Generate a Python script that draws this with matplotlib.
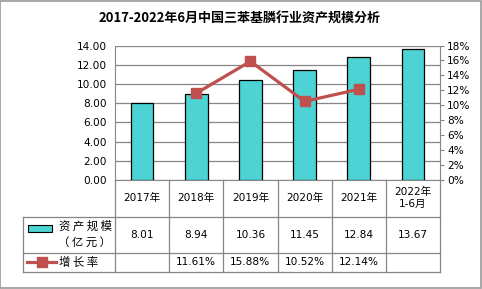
import numpy as np
import matplotlib.pyplot as plt
import matplotlib as mpl
from matplotlib.lines import Line2D
from matplotlib.patches import Rectangle

plt.rcParams['font.family'] = ['DejaVu Sans', 'Noto Sans CJK SC']

years = ['2017年', '2018年', '2019年', '2020年', '2021年', '2022年\n1-6月']
assets = [8.01, 8.94, 10.36, 11.45, 12.84, 13.67]
growth = [np.nan, 11.61, 15.88, 10.52, 12.14, np.nan]
asset_labels = ['8.01', '8.94', '10.36', '11.45', '12.84', '13.67']
growth_labels = ['', '11.61%', '15.88%', '10.52%', '12.14%', '']

W, H = 482, 289
bar_color = '#4DD3D3'
line_color = '#C0504D'
grid_color = '#868686'


def fx(x):
    return x / W


def fy(y):
    return 1 - y / H


fig = plt.figure(figsize=(W / 100, H / 100), dpi=100)
fig.add_artist(Rectangle((0.001, 0.002), 0.997, 0.995, transform=fig.transFigure,
                         fill=False, edgecolor='#9a9a9a', lw=1.2))

left, right, top, bottom = 115, 440, 45.5, 180
ax = fig.add_axes([fx(left), fy(bottom), fx(right - left), (bottom - top) / H])
x = np.arange(len(years))
ax.bar(x, assets, width=0.42, color=bar_color, edgecolor='black', lw=0.9, zorder=3)
ax.set_xlim(-0.5, len(years) - 0.5)
ax.set_ylim(0, 14)
ax.set_yticks(np.arange(0, 15, 2))
ax.set_yticklabels(['%.2f' % v for v in np.arange(0, 15, 2)])
ax.yaxis.grid(True, color=grid_color, lw=0.9, zorder=0)
ax.set_xticks([])
for s in ['top', 'right']:
    ax.spines[s].set_visible(False)
ax.spines['left'].set_color(grid_color)
ax.spines['bottom'].set_color(grid_color)
ax.tick_params(axis='y', length=0, labelsize=7.6, pad=6, colors='black')

ax2 = ax.twinx()
ax2.plot(x, growth, color=line_color, lw=2.3, marker='s', ms=7.5, zorder=4)
ax2.set_ylim(0, 18)
ax2.set_yticks(np.arange(0, 19, 2))
ax2.set_yticklabels(['%d%%' % v for v in np.arange(0, 19, 2)])
for s in ['top', 'left', 'bottom']:
    ax2.spines[s].set_visible(False)
ax2.spines['right'].set_color(grid_color)
ax2.tick_params(axis='y', length=3, color=grid_color, labelsize=7.6, pad=2)

fig.text(fx(240), fy(18.5), '2017-2022年6月中国三苯基膦行业资产规模分析', ha='center',
         va='center', fontsize=9.4, fontweight='bold',
         family=['Noto Sans CJK SC'])

# data table
cols = [left + i * (right - left) / 6 for i in range(7)]
rows = [180, 216.7, 252.7, 271.7]
tab_left = 23


def hline(x0, x1, y):
    fig.add_artist(Line2D([fx(x0), fx(x1)], [fy(y), fy(y)], color=grid_color, lw=0.9))


def vline(xp, y0, y1):
    fig.add_artist(Line2D([fx(xp), fx(xp)], [fy(y0), fy(y1)], color=grid_color, lw=0.9))


hline(tab_left, right, rows[1])
hline(tab_left, right, rows[2])
hline(tab_left, right, rows[3])
for c in cols:
    vline(c, rows[0], rows[3])
vline(tab_left, rows[1], rows[3])

for i in range(6):
    cx = (cols[i] + cols[i + 1]) / 2
    fig.text(fx(cx), fy((rows[0] + rows[1]) / 2), years[i], ha='center', va='center',
             fontsize=7.6, linespacing=1.25)
    fig.text(fx(cx), fy((rows[1] + rows[2]) / 2), asset_labels[i], ha='center',
             va='center', fontsize=7.6)
    fig.text(fx(cx), fy((rows[2] + rows[3]) / 2), growth_labels[i], ha='center',
             va='center', fontsize=7.6)

fig.add_artist(Rectangle((fx(28), fy(231.5)), fx(24), 6.5 / H, transform=fig.transFigure,
                         facecolor=bar_color, edgecolor='black', lw=0.8))
fig.text(fx(59), fy(226), '资 产 规 模', ha='left', va='center', fontsize=8.2,
         family=['Noto Sans CJK SC'])
fig.text(fx(85), fy(242), '（ 亿 元 ）', ha='center', va='center', fontsize=8.2,
         family=['Noto Sans CJK SC'])
ymid = (rows[2] + rows[3]) / 2
fig.add_artist(Line2D([fx(27), fx(56)], [fy(ymid), fy(ymid)], color=line_color, lw=2.3))
fig.add_artist(Line2D([fx(41.5)], [fy(ymid)], color=line_color, marker='s', ms=7))
fig.text(fx(59), fy(ymid), '增 长 率', ha='left', va='center', fontsize=8.2,
         family=['Noto Sans CJK SC'])

plt.savefig('out.png', dpi=100)
